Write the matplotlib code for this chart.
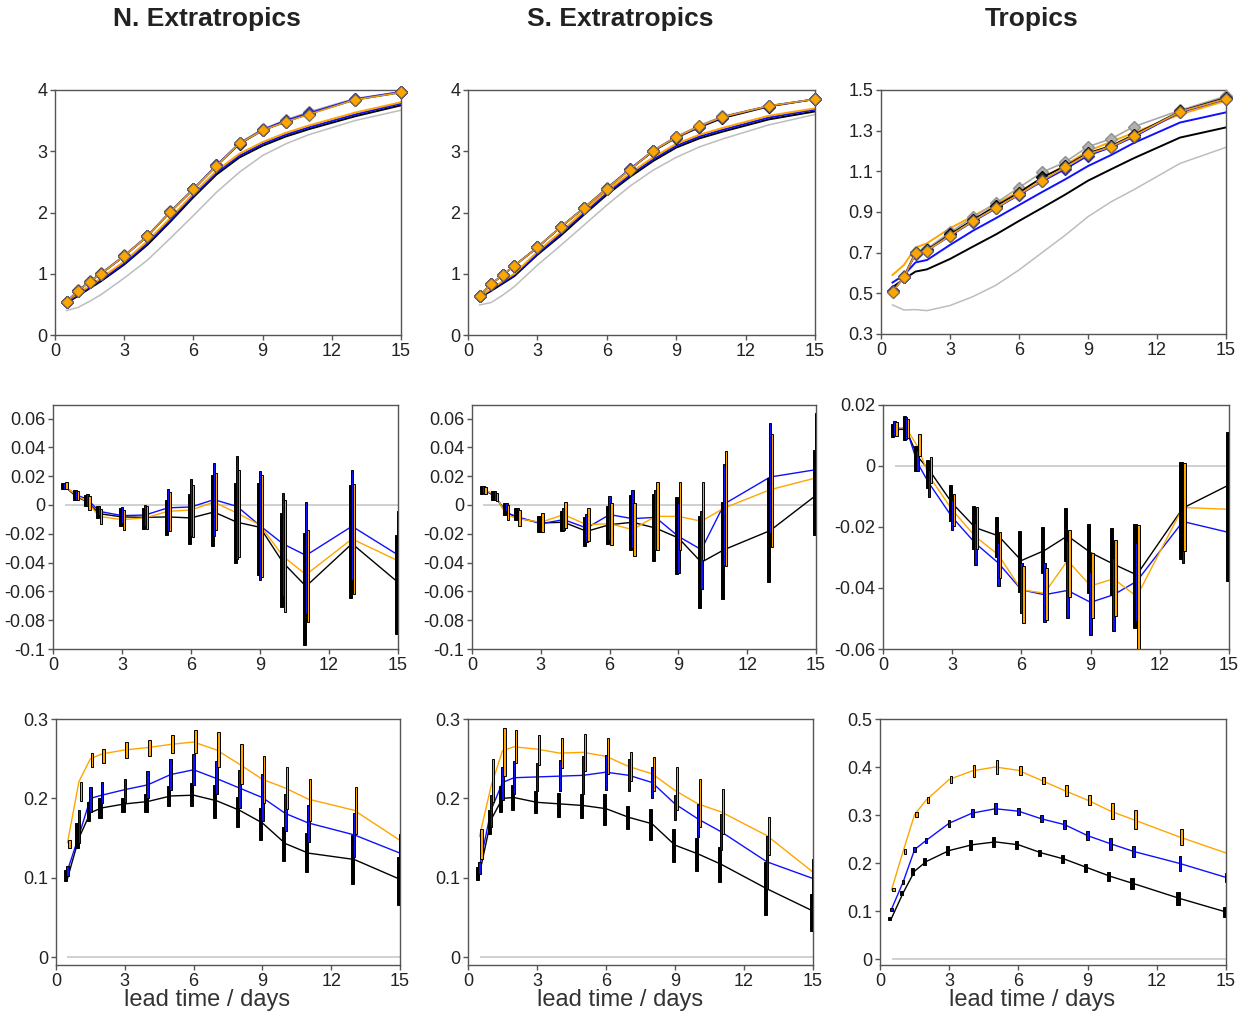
import matplotlib
matplotlib.use('Agg')
import matplotlib.pyplot as plt

plt.rcParams['font.family'] = ['Liberation Sans', 'DejaVu Sans']

# ---------------- data ----------------
lead = [0.5, 1, 1.5, 2, 3, 4, 5, 6, 7, 8, 9, 10, 11, 13, 15]
regions = ["N. Extratropics", "S. Extratropics", "Tropics"]

# Row 1: solid lines (no markers) and diamond lines
nh_line_grey = [0.40, 0.45, 0.55, 0.66, 0.93, 1.22, 1.58, 1.95, 2.33, 2.66, 2.93, 3.12, 3.27, 3.50, 3.67]
nh_line_black = [0.52, 0.64, 0.76, 0.88, 1.15, 1.47, 1.85, 2.25, 2.62, 2.90, 3.09, 3.24, 3.36, 3.57, 3.75]
nh_line_blue = [0.53, 0.66, 0.78, 0.90, 1.17, 1.50, 1.88, 2.28, 2.65, 2.93, 3.12, 3.27, 3.39, 3.60, 3.78]
nh_line_orange = [0.55, 0.68, 0.80, 0.93, 1.20, 1.53, 1.91, 2.31, 2.68, 2.96, 3.15, 3.30, 3.42, 3.63, 3.80]
nh_diam_grey = [0.54, 0.73, 0.88, 1.01, 1.30, 1.62, 2.02, 2.39, 2.77, 3.14, 3.36, 3.51, 3.64, 3.86, 3.97]
nh_diam_black = [0.54, 0.72, 0.87, 1.00, 1.29, 1.61, 2.01, 2.38, 2.76, 3.12, 3.34, 3.48, 3.61, 3.84, 3.96]
nh_diam_blue = [0.54, 0.72, 0.87, 1.00, 1.29, 1.61, 2.01, 2.38, 2.77, 3.13, 3.35, 3.50, 3.62, 3.85, 3.97]
nh_diam_orange = [0.54, 0.72, 0.87, 1.00, 1.29, 1.61, 2.01, 2.38, 2.76, 3.13, 3.34, 3.48, 3.60, 3.84, 3.96]

sh_line_grey = [0.49, 0.53, 0.65, 0.79, 1.14, 1.46, 1.79, 2.12, 2.43, 2.69, 2.90, 3.07, 3.20, 3.43, 3.60]
sh_line_black = [0.61, 0.72, 0.84, 0.96, 1.31, 1.62, 1.96, 2.29, 2.58, 2.84, 3.06, 3.21, 3.32, 3.52, 3.65]
sh_line_blue = [0.62, 0.74, 0.86, 0.98, 1.33, 1.65, 1.99, 2.32, 2.61, 2.87, 3.09, 3.24, 3.35, 3.55, 3.68]
sh_line_orange = [0.63, 0.75, 0.88, 1.00, 1.36, 1.68, 2.02, 2.35, 2.64, 2.90, 3.12, 3.27, 3.38, 3.58, 3.70]
sh_diam_grey = [0.64, 0.83, 0.98, 1.13, 1.43, 1.76, 2.07, 2.40, 2.71, 3.01, 3.24, 3.42, 3.57, 3.74, 3.85]
sh_diam_black = [0.64, 0.83, 0.98, 1.13, 1.43, 1.76, 2.07, 2.39, 2.70, 3.00, 3.22, 3.39, 3.54, 3.73, 3.85]
sh_diam_blue = [0.64, 0.83, 0.98, 1.13, 1.43, 1.76, 2.07, 2.39, 2.71, 3.01, 3.23, 3.40, 3.56, 3.74, 3.85]
sh_diam_orange = [0.64, 0.83, 0.98, 1.13, 1.43, 1.76, 2.07, 2.39, 2.70, 3.01, 3.23, 3.41, 3.56, 3.74, 3.85]

tr_line_grey = [0.443, 0.418, 0.420, 0.415, 0.440, 0.484, 0.540, 0.615, 0.700, 0.785, 0.877, 0.950, 1.010, 1.139, 1.218]
tr_line_black = [0.530, 0.570, 0.607, 0.618, 0.669, 0.730, 0.790, 0.856, 0.920, 0.985, 1.054, 1.110, 1.165, 1.266, 1.316]
tr_line_blue = [0.553, 0.590, 0.652, 0.664, 0.738, 0.808, 0.870, 0.934, 0.998, 1.060, 1.126, 1.180, 1.240, 1.340, 1.390]
tr_line_orange = [0.590, 0.640, 0.725, 0.746, 0.820, 0.880, 0.940, 1.000, 1.065, 1.130, 1.200, 1.245, 1.290, 1.380, 1.447]
tr_diam_grey = [0.505, 0.585, 0.705, 0.720, 0.800, 0.875, 0.945, 1.020, 1.095, 1.145, 1.221, 1.260, 1.320, 1.400, 1.470]
tr_diam_black = [0.510, 0.580, 0.700, 0.713, 0.790, 0.862, 0.930, 0.995, 1.070, 1.125, 1.190, 1.225, 1.280, 1.395, 1.462]
tr_diam_blue = [0.510, 0.578, 0.695, 0.710, 0.782, 0.853, 0.918, 0.984, 1.050, 1.110, 1.177, 1.218, 1.270, 1.390, 1.455]
tr_diam_orange = [0.507, 0.579, 0.697, 0.710, 0.784, 0.856, 0.921, 0.987, 1.054, 1.120, 1.185, 1.221, 1.275, 1.393, 1.457]

# Row 2: bias lines with bars (lo / hi)
nh_bias_black = [0.013, 0.006, 0.002, -0.006, -0.0083, -0.0086, -0.0083, -0.009, -0.0049, -0.012, -0.0155, -0.040, -0.0565, -0.0269, -0.0537]
nh_bias_blue = [0.013, 0.007, 0.004, -0.0044, -0.0074, -0.007, -0.002, -0.0014, 0.0037, -0.001, -0.0144, -0.027, -0.035, -0.0148, -0.0347]
nh_bias_orange = [0.013, 0.007, 0.002, -0.0079, -0.0102, -0.009, -0.0044, -0.0035, 0.002, -0.0056, -0.0139, -0.0356, -0.0484, -0.0236, -0.0387]
nh_bias_black_lo = [0.0111, 0.0037, -0.0009, -0.009, -0.0144, -0.0167, -0.0206, -0.0269, -0.0282, -0.0403, -0.0488, -0.0708, -0.0975, -0.0648, -0.0896]
nh_bias_black_hi = [0.0153, 0.0106, 0.0072, -0.0005, -0.0021, -0.0021, 0.0037, 0.0079, 0.0211, 0.0153, 0.0153, -0.0056, -0.0194, 0.0141, -0.0206]
nh_bias_blue_lo = [0.011, 0.0037, -0.0005, -0.0067, -0.0125, -0.0148, -0.0183, -0.0218, -0.0213, -0.0375, -0.0519, -0.0634, -0.0755, -0.0523, -0.068]
nh_bias_blue_hi = [0.015, 0.0106, 0.0079, -0.0005, -0.0014, 0.0002, 0.011, 0.0183, 0.0292, 0.0343, 0.0234, 0.0083, 0.0021, 0.0241, -0.0044]
nh_bias_orange_lo = [0.011, 0.0037, -0.0037, -0.0132, -0.0176, -0.0167, -0.0183, -0.0222, -0.0176, -0.0361, -0.05, -0.0743, -0.0815, -0.0618, -0.072]
nh_bias_orange_hi = [0.016, 0.010, 0.0065, -0.0028, -0.0032, -0.0009, 0.009, 0.0141, 0.0222, 0.0245, 0.0211, 0.0037, -0.0171, 0.0148, -0.005]

sh_bias_black = [0.011, 0.006, -0.005, -0.009, -0.0125, -0.012, -0.0183, -0.0137, -0.012, -0.016, -0.0229, -0.0398, -0.031, -0.0178, 0.0067]
sh_bias_blue = [0.011, 0.006, -0.0056, -0.0083, -0.013, -0.0102, -0.016, -0.0067, -0.0095, -0.0086, -0.0218, -0.031, 0.0007, 0.0194, 0.0245]
sh_bias_orange = [0.011, 0.007, -0.0067, -0.0095, -0.012, -0.0067, -0.0137, -0.013, -0.0171, -0.0079, -0.0079, -0.0113, -0.0021, 0.0106, 0.0188]
sh_bias_black_lo = [0.0079, 0.0037, -0.0067, -0.0106, -0.019, -0.0183, -0.0287, -0.0269, -0.031, -0.0391, -0.0477, -0.0715, -0.0653, -0.0537, -0.0206]
sh_bias_black_hi = [0.0134, 0.0095, 0.0014, -0.0021, -0.0079, -0.0044, -0.0083, -0.0005, 0.0072, 0.0079, 0.0056, -0.0079, 0.0019, 0.0188, 0.038]
sh_bias_blue_lo = [0.008, 0.0037, -0.0044, -0.009, -0.0183, -0.0171, -0.0259, -0.0245, -0.0299, -0.031, -0.0472, -0.0583, -0.0414, -0.0194, -0.0206]
sh_bias_blue_hi = [0.0134, 0.0095, 0.0014, -0.0021, -0.0083, -0.0021, -0.006, 0.006, 0.0106, 0.0106, 0.0014, -0.0044, 0.0285, 0.0569, 0.0639]
sh_bias_orange_lo = [0.0079, 0.0025, -0.0102, -0.0148, -0.019, -0.016, -0.0252, -0.0275, -0.0356, -0.031, -0.031, -0.0384, -0.0426, -0.0292, -0.02]
sh_bias_orange_hi = [0.0125, 0.0083, 0.0002, -0.0037, -0.0056, 0.0019, -0.0023, 0.0014, 0.0014, 0.0157, 0.0157, 0.0157, 0.0377, 0.0495, 0.05]

tr_bias_black = [0.012, 0.012, 0.0031, -0.0013, -0.0122, -0.0202, -0.0229, -0.031, -0.0277, -0.0229, -0.0284, -0.0322, -0.0357, -0.0138, -0.0062]
tr_bias_blue = [0.012, 0.0125, 0.0009, -0.0057, -0.0168, -0.0253, -0.0318, -0.0406, -0.0422, -0.0408, -0.0447, -0.0422, -0.0378, -0.0182, -0.0218]
tr_bias_orange = [0.0125, 0.0125, 0.0064, -0.0033, -0.0144, -0.0231, -0.0291, -0.0406, -0.0417, -0.031, -0.0393, -0.037, -0.0428, -0.0136, -0.0142]
tr_bias_black_lo = [0.0094, 0.0085, -0.0015, -0.0073, -0.0179, -0.0273, -0.0297, -0.0414, -0.0351, -0.0313, -0.0417, -0.0422, -0.0531, -0.0305, -0.0378]
tr_bias_black_hi = [0.0138, 0.0164, 0.0066, 0.002, -0.0062, -0.0131, -0.0168, -0.0212, -0.02, -0.0138, -0.019, -0.0204, -0.019, 0.0014, 0.0113]
tr_bias_blue_lo = [0.0098, 0.0087, -0.0018, -0.0102, -0.0211, -0.0324, -0.0393, -0.0482, -0.0513, -0.0499, -0.0553, -0.0542, -0.0509, -0.0318, -0.035]
tr_bias_blue_hi = [0.0149, 0.0162, 0.0053, -0.0013, -0.0111, -0.0187, -0.0253, -0.0318, -0.0318, -0.0247, -0.0349, -0.0302, -0.0253, -0.004, -0.005]
tr_bias_orange_lo = [0.0098, 0.0091, 0.0033, -0.0057, -0.0198, -0.0273, -0.0368, -0.0515, -0.0504, -0.0428, -0.0499, -0.0491, -0.0602, -0.028, -0.03]
tr_bias_orange_hi = [0.0145, 0.0153, 0.0105, 0.0029, -0.0091, -0.0135, -0.0218, -0.0329, -0.0335, -0.0209, -0.0286, -0.0244, -0.0193, 0.0009, 0.0]

# Row 3: lines with bars (lo / hi)
nh_sd_black = [0.099, 0.150, 0.182, 0.188, 0.193, 0.196, 0.203, 0.204, 0.197, 0.185, 0.169, 0.143, 0.131, 0.123, 0.098]
nh_sd_blue = [0.109, 0.153, 0.200, 0.204, 0.211, 0.217, 0.230, 0.236, 0.225, 0.213, 0.201, 0.181, 0.169, 0.154, 0.131]
nh_sd_orange = [0.144, 0.221, 0.250, 0.256, 0.261, 0.264, 0.268, 0.271, 0.261, 0.243, 0.224, 0.213, 0.199, 0.185, 0.147]
nh_sd_black_lo = [0.096, 0.138, 0.171, 0.175, 0.183, 0.183, 0.190, 0.190, 0.175, 0.164, 0.148, 0.121, 0.107, 0.092, 0.065]
nh_sd_black_hi = [0.110, 0.169, 0.196, 0.200, 0.201, 0.206, 0.216, 0.219, 0.217, 0.202, 0.188, 0.164, 0.156, 0.154, 0.126]
nh_sd_blue_lo = [0.102, 0.144, 0.183, 0.194, 0.196, 0.200, 0.210, 0.217, 0.206, 0.188, 0.171, 0.159, 0.145, 0.126, 0.105]
nh_sd_blue_hi = [0.115, 0.185, 0.214, 0.221, 0.225, 0.234, 0.249, 0.256, 0.247, 0.236, 0.231, 0.205, 0.192, 0.182, 0.155]
nh_sd_orange_lo = [0.137, 0.197, 0.239, 0.245, 0.251, 0.254, 0.257, 0.257, 0.240, 0.218, 0.194, 0.186, 0.172, 0.155, 0.120]
nh_sd_orange_hi = [0.147, 0.221, 0.257, 0.262, 0.271, 0.273, 0.280, 0.286, 0.284, 0.269, 0.253, 0.239, 0.225, 0.214, 0.175]

sh_sd_black = [0.105, 0.173, 0.200, 0.201, 0.195, 0.193, 0.191, 0.187, 0.176, 0.168, 0.141, 0.130, 0.117, 0.086, 0.058]
sh_sd_blue = [0.114, 0.185, 0.220, 0.226, 0.227, 0.228, 0.229, 0.233, 0.229, 0.220, 0.193, 0.174, 0.158, 0.120, 0.099]
sh_sd_orange = [0.152, 0.215, 0.260, 0.265, 0.262, 0.257, 0.258, 0.253, 0.240, 0.231, 0.210, 0.193, 0.183, 0.153, 0.107]
sh_sd_black_lo = [0.097, 0.155, 0.183, 0.185, 0.181, 0.177, 0.175, 0.167, 0.161, 0.148, 0.120, 0.109, 0.095, 0.053, 0.033]
sh_sd_black_hi = [0.113, 0.185, 0.216, 0.217, 0.209, 0.207, 0.206, 0.206, 0.190, 0.186, 0.161, 0.150, 0.139, 0.120, 0.079]
sh_sd_blue_lo = [0.105, 0.164, 0.198, 0.206, 0.209, 0.209, 0.206, 0.211, 0.209, 0.200, 0.173, 0.151, 0.135, 0.086, 0.076]
sh_sd_blue_hi = [0.120, 0.204, 0.240, 0.247, 0.245, 0.248, 0.253, 0.255, 0.249, 0.239, 0.204, 0.193, 0.180, 0.153, 0.123]
sh_sd_orange_lo = [0.124, 0.196, 0.228, 0.245, 0.242, 0.238, 0.234, 0.231, 0.222, 0.209, 0.185, 0.164, 0.155, 0.129, 0.090]
sh_sd_orange_hi = [0.161, 0.249, 0.289, 0.286, 0.280, 0.276, 0.281, 0.276, 0.259, 0.252, 0.239, 0.225, 0.212, 0.176, 0.130]

tr_sd_black = [0.085, 0.1375, 0.183, 0.203, 0.226, 0.238, 0.244, 0.238, 0.221, 0.208, 0.190, 0.172, 0.157, 0.126, 0.098]
tr_sd_blue = [0.104, 0.160, 0.228, 0.247, 0.283, 0.304, 0.313, 0.308, 0.292, 0.280, 0.257, 0.240, 0.224, 0.199, 0.170]
tr_sd_orange = [0.144, 0.224, 0.301, 0.331, 0.374, 0.392, 0.400, 0.393, 0.372, 0.351, 0.331, 0.308, 0.290, 0.254, 0.221]
tr_sd_black_lo = [0.082, 0.133, 0.176, 0.195, 0.217, 0.228, 0.233, 0.230, 0.214, 0.200, 0.182, 0.162, 0.146, 0.112, 0.088]
tr_sd_black_hi = [0.088, 0.142, 0.190, 0.211, 0.235, 0.248, 0.255, 0.246, 0.228, 0.216, 0.198, 0.182, 0.168, 0.140, 0.108]
tr_sd_blue_lo = [0.101, 0.156, 0.223, 0.242, 0.276, 0.296, 0.302, 0.301, 0.285, 0.271, 0.248, 0.228, 0.213, 0.183, 0.160]
tr_sd_blue_hi = [0.107, 0.164, 0.233, 0.252, 0.290, 0.312, 0.324, 0.315, 0.299, 0.289, 0.266, 0.252, 0.235, 0.215, 0.180]
tr_sd_orange_lo = [0.141, 0.219, 0.295, 0.325, 0.366, 0.380, 0.385, 0.384, 0.364, 0.340, 0.320, 0.291, 0.270, 0.238, 0.205]
tr_sd_orange_hi = [0.147, 0.229, 0.307, 0.337, 0.382, 0.404, 0.415, 0.402, 0.380, 0.362, 0.342, 0.325, 0.310, 0.270, 0.237]

xticks = [0, 3, 6, 9, 12, 15]
yticks_r1 = [[0, 1, 2, 3, 4], [0, 1, 2, 3, 4], [0.3, 0.5, 0.7, 0.9, 1.1, 1.3, 1.5]]
yticks_r2 = [[-0.1, -0.08, -0.06, -0.04, -0.02, 0, 0.02, 0.04, 0.06],
             [-0.1, -0.08, -0.06, -0.04, -0.02, 0, 0.02, 0.04, 0.06],
             [-0.06, -0.04, -0.02, 0, 0.02]]
yticks_r3 = [[0, 0.1, 0.2, 0.3], [0, 0.1, 0.2, 0.3], [0, 0.1, 0.2, 0.3, 0.4, 0.5]]

# ---------------- styling ----------------
C_GREY = '#BDBDBD'
C_BLACK = '#000000'
C_BLUE = '#1010FF'
C_ORANGE = '#FFA500'
C_TEXT = '#222222'
C_SPINE = '#555555'

W, H = 1248, 1014
fig = plt.figure(figsize=(W / 100, H / 100), dpi=100)


def box(l, r, t, b):
    return [l / W, (H - b) / H, (r - l) / W, (b - t) / H]


pos = [
    [box(55, 401, 90, 335), box(468, 815, 90, 335), box(881, 1226, 90, 334)],
    [box(53, 398, 405, 649), box(472, 816, 405, 649), box(883, 1229, 405, 649)],
    [box(56, 400, 719, 965), box(468, 813, 719, 965), box(880, 1226, 719, 965)],
]
ylims = [
    [(0, 4), (0, 4), (0.3, 1.5)],
    [(-0.1, 0.0694), (-0.1, 0.0694), (-0.06, 0.02)],
    [(-0.01, 0.3), (-0.01, 0.3), (-0.0125, 0.5)],
]
yticks = [yticks_r1, yticks_r2, yticks_r3]


def style(ax, r, c):
    ax.set_xlim(0, 15)
    ax.set_ylim(*ylims[r][c])
    ax.set_xticks(xticks)
    ax.set_xticklabels([f"{t:g}" for t in xticks])
    ax.set_yticks(yticks[r][c])
    ax.set_yticklabels([f"{t:g}" for t in yticks[r][c]])
    for s in ax.spines.values():
        s.set_color(C_SPINE)
        s.set_linewidth(1.0)
    ax.tick_params(direction='out', length=3.5, width=1, color=C_SPINE,
                   labelsize=13, labelcolor=C_TEXT, pad=2)


row1 = [
    (nh_line_grey, nh_line_black, nh_line_blue, nh_line_orange,
     nh_diam_grey, nh_diam_black, nh_diam_blue, nh_diam_orange),
    (sh_line_grey, sh_line_black, sh_line_blue, sh_line_orange,
     sh_diam_grey, sh_diam_black, sh_diam_blue, sh_diam_orange),
    (tr_line_grey, tr_line_black, tr_line_blue, tr_line_orange,
     tr_diam_grey, tr_diam_black, tr_diam_blue, tr_diam_orange),
]

row2 = [
    [(nh_bias_black, nh_bias_black_lo, nh_bias_black_hi),
     (nh_bias_blue, nh_bias_blue_lo, nh_bias_blue_hi),
     (nh_bias_orange, nh_bias_orange_lo, nh_bias_orange_hi)],
    [(sh_bias_black, sh_bias_black_lo, sh_bias_black_hi),
     (sh_bias_blue, sh_bias_blue_lo, sh_bias_blue_hi),
     (sh_bias_orange, sh_bias_orange_lo, sh_bias_orange_hi)],
    [(tr_bias_black, tr_bias_black_lo, tr_bias_black_hi),
     (tr_bias_blue, tr_bias_blue_lo, tr_bias_blue_hi),
     (tr_bias_orange, tr_bias_orange_lo, tr_bias_orange_hi)],
]
row3 = [
    [(nh_sd_black, nh_sd_black_lo, nh_sd_black_hi),
     (nh_sd_blue, nh_sd_blue_lo, nh_sd_blue_hi),
     (nh_sd_orange, nh_sd_orange_lo, nh_sd_orange_hi)],
    [(sh_sd_black, sh_sd_black_lo, sh_sd_black_hi),
     (sh_sd_blue, sh_sd_blue_lo, sh_sd_blue_hi),
     (sh_sd_orange, sh_sd_orange_lo, sh_sd_orange_hi)],
    [(tr_sd_black, tr_sd_black_lo, tr_sd_black_hi),
     (tr_sd_blue, tr_sd_blue_lo, tr_sd_blue_hi),
     (tr_sd_orange, tr_sd_orange_lo, tr_sd_orange_hi)],
]

bar_colors = [C_BLACK, C_BLUE, C_ORANGE]
bar_offsets = [-0.08, 0.0, 0.08]
bar_widths = [0.14, 0.11, 0.11]

for c in range(3):
    # ----- row 1 -----
    ax = fig.add_axes(pos[0][c])
    lg, lk, lb, lo, dg, dk, db, do = row1[c]
    ax.plot(lead, lg, color=C_GREY, lw=1.1, zorder=2)
    ax.plot(lead, lk, color=C_BLACK, lw=1.4, zorder=2)
    ax.plot(lead, lb, color=C_BLUE, lw=1.4, zorder=2)
    ax.plot(lead, lo, color=C_ORANGE, lw=1.4, zorder=2)
    ax.plot(lead, dg, color='#A8A8A8', lw=1.2, marker='D', ms=6.5,
            mfc='#B0B0B0', mec='#909090', zorder=3, clip_on=False)
    ax.plot(lead, dk, color=C_BLACK, lw=1.2, marker='D', ms=6.5,
            mfc='#333333', mec=C_BLACK, zorder=3, clip_on=False)
    ax.plot(lead, db, color=C_BLUE, lw=1.2, marker='D', ms=6.5,
            mfc=C_BLUE, mec='#3030A0', zorder=3, clip_on=False)
    ax.plot(lead, do, color='#E39A1A', lw=1.2, marker='D', ms=6.5,
            mfc=C_ORANGE, mec='#7A6A50', mew=0.8, zorder=4, clip_on=False)
    style(ax, 0, c)

    # ----- rows 2 and 3 -----
    for r, rowdata in ((1, row2), (2, row3)):
        ax = fig.add_axes(pos[r][c])
        ax.hlines(0, lead[0], lead[-1], color='#C8C8C8', lw=1.2, zorder=1)
        for k, (val, lo_, hi_) in enumerate(rowdata[c]):
            ax.plot(lead, val, color=bar_colors[k], lw=1.0, zorder=2)
        for k, (val, lo_, hi_) in enumerate(rowdata[c]):
            xs = [x + bar_offsets[k] for x in lead]
            heights = [h - l for h, l in zip(hi_, lo_)]
            ax.bar(xs, heights, bottom=lo_, width=bar_widths[k], color=bar_colors[k],
                   edgecolor='black', linewidth=0.7, zorder=3 + k)
        style(ax, r, c)

# titles and x labels
title_x = [207, 620, 1032]
for c in range(3):
    fig.text(title_x[c] / W, 1 - 19 / H, regions[c], ha='center', va='center',
             fontsize=19, fontweight='bold', color=C_TEXT)
    fig.text(title_x[c] / W, 1 - 1000 / H, 'lead time / days', ha='center',
             va='center', fontsize=17, color='#333333')

fig.savefig('out.png', dpi=100)
